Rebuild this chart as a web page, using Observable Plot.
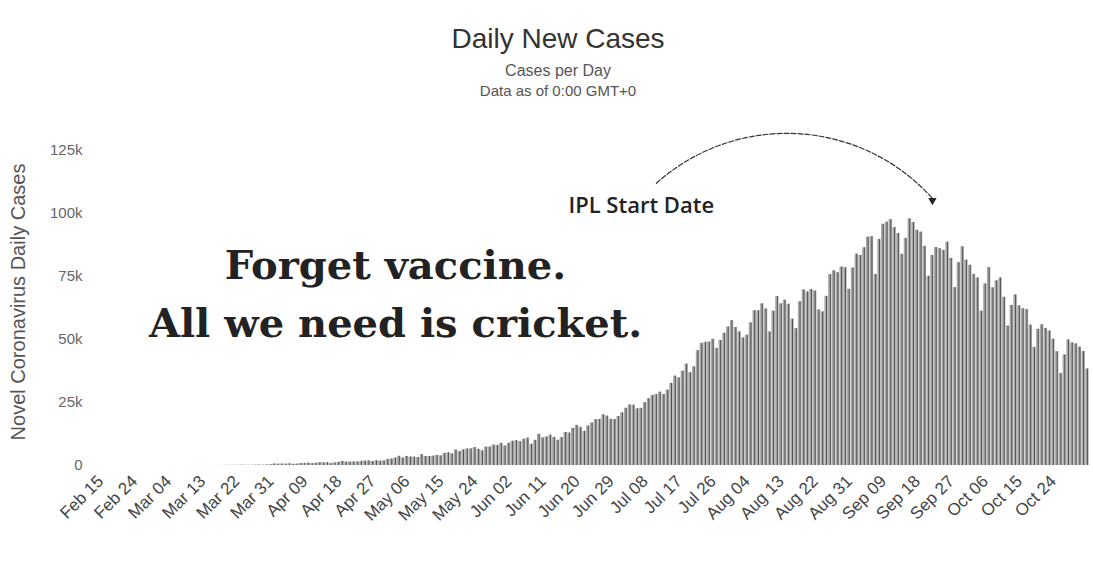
<!DOCTYPE html>
<html><head><meta charset="utf-8">
<script src="https://cdn.jsdelivr.net/npm/d3@7"></script>
<script src="https://cdn.jsdelivr.net/npm/@observablehq/plot@0.6"></script>
<style>
body{margin:0;background:#fff;}
#wrap{position:relative;width:1093px;height:579px;overflow:hidden;font-family:"Liberation Sans",Arial,sans-serif;}
#chart{position:absolute;left:0;top:0;}
.t{position:absolute;left:0;width:1116px;text-align:center;white-space:nowrap;}
#title{top:23px;font-size:28px;color:#333;}
#sub1{top:62px;font-size:16px;color:#555;}
#sub2{top:82px;font-size:15px;color:#555;}
#ylab{position:absolute;left:18px;top:302px;transform:translate(-50%,-50%) rotate(-90deg);font-size:20px;color:#555;white-space:nowrap;}
</style></head><body>
<div id="wrap">
  <div id="chart"></div>
  <div class="t" id="title">Daily New Cases</div>
  <div class="t" id="sub1">Cases per Day</div>
  <div class="t" id="sub2">Data as of 0:00 GMT+0</div>
  <div id="ylab">Novel Coronavirus Daily Cases</div>
</div>
<script>
// Daily new cases (Feb 15 - Nov 02)
const febValues = [0,0,0,0,0,0,0,0,0,0,0,0,0,0,0];
const marValues = [0,2,1,22,2,1,3,5,9,15,8,10,10,12,13,8,16,21,28,63,77,75,102,103,88,84,135,176,123,227,303];
const aprValues = [601,545,590,529,693,489,542,767,822,933,758,929,1107,1035,1112,826,1034,1263,1593,1331,1335,1384,1404,1652,1785,1832,1569,1890,1705,1801];
const mayValues = [2396,2564,2952,3656,2971,3602,3344,3339,3175,4311,3592,3562,3726,3991,3808,4794,5049,4628,6147,5553,6198,6568,6629,7113,6414,5843,7293,7300,8105,7964,8789];
const junValues = [7723,8812,9633,9889,9471,10438,10864,8442,9985,12375,10956,11306,12023,11157,10032,11086,13108,12881,14721,15915,15151,13560,15656,16868,18205,18255,20142,19610,18339,18256];
const julValues = [19429,20903,22721,24018,23942,22500,22687,24952,26506,27755,28178,29106,28178,29917,32607,35468,34820,37411,40243,36806,39170,45599,48447,48892,49000,50072,46484,49632,52479,54968,57486];
const augValues = [54736,53016,50629,51706,56626,61455,61408,64142,62117,53016,61252,67066,64142,65609,63986,58096,54300,65022,69672,68900,69876,69239,61749,60975,67151,75760,77266,76472,78761,78512,69921];
const sepValues = [78357,83883,83341,86432,90632,90802,75809,89706,95735,96551,97570,94372,92071,83809,90123,97894,96424,93337,92605,86961,75083,83347,86508,86052,85362,88600,82170,70589,80472,86821];
const octValues = [81484,79476,75829,74442,61267,72049,78524,70496,73272,74383,66732,55342,63509,67708,63371,62212,61871,55722,46790,54044,55839,54366,53370,50129,45149,36470,43893,49881,48648,48268,46963];
const novValues = [45231,38310];

const firstDay = new Date(Date.UTC(2020, 1, 15));
const endDay = new Date(Date.UTC(2020, 10, 3));
const fmt = d3.utcFormat("%b %d");
const dates = d3.utcDay.range(firstDay, endDay).map(fmt);

const tickLabels = ["Feb 15","Feb 24","Mar 04","Mar 13","Mar 22","Mar 31","Apr 09","Apr 18","Apr 27","May 06","May 15","May 24","Jun 02","Jun 11","Jun 20","Jun 29","Jul 08","Jul 17","Jul 26","Aug 04","Aug 13","Aug 22","Aug 31","Sep 09","Sep 18","Sep 27","Oct 06","Oct 15","Oct 24"];
const yTicks = [0, 25000, 50000, 75000, 100000, 125000];

const headline = "Forget vaccine.\nAll we need is cricket.";
const iplText = "IPL Start Date";

const values = [].concat(febValues, marValues, aprValues, mayValues, junValues, julValues, augValues, sepValues, octValues, novValues);
const rows = dates.map((date, i) => ({date, value: values[i]}));

const chart = Plot.plot({
  width: 1093,
  height: 579,
  marginLeft: 98,
  marginRight: 4,
  marginTop: 150,
  marginBottom: 114,
  style: {fontFamily: "'Liberation Sans', Arial, sans-serif", fontSize: "15px", color: "#555", background: "transparent"},
  x: {type: "band", domain: dates, padding: 0.1},
  y: {domain: [0, 125000]},
  marks: [
    Plot.barY(rows, {x: "date", y: "value", fill: "#ababab"}),
    Plot.ruleX(rows, {x: "date", y1: 0, y2: "value", stroke: "#222", strokeOpacity: 0.65, strokeWidth: 1}),
    Plot.axisX({ticks: tickLabels, tickRotate: -45, tickSize: 0, tickPadding: 13, label: null, fill: "#444", fontSize: 17}),
    Plot.axisY({ticks: yTicks, tickFormat: d => d === 0 ? "0" : d / 1000 + "k", tickSize: 0, tickPadding: 16, label: null, fill: "#666"}),
    Plot.text([headline], {x: () => "May 03", y: () => 70000, text: d => d, fontFamily: "'DejaVu Serif', serif", fontWeight: "bold", fontSize: 40, lineHeight: 1.45, fill: "#222", textAnchor: "middle"}),
    Plot.text([iplText], {x: () => "Jul 07", y: () => 103000, text: d => d, fontFamily: "'Open Sans', sans-serif", fontWeight: 600, fontSize: 22, fill: "#222"}),
    Plot.arrow([iplText], {x1: () => "Jul 11", y1: () => 112000, x2: () => "Sep 22", y2: () => 106000, bend: 45, stroke: "#333", strokeWidth: 1.2, strokeDasharray: "5,2", headLength: 0}),
    Plot.dot([iplText], {x: () => "Sep 22", y: () => 106000, symbol: "triangle2", rotate: 180, r: 4, fill: "#222", dy: 2})
  ]
});
document.getElementById("chart").appendChild(chart);
</script>
</body></html>
